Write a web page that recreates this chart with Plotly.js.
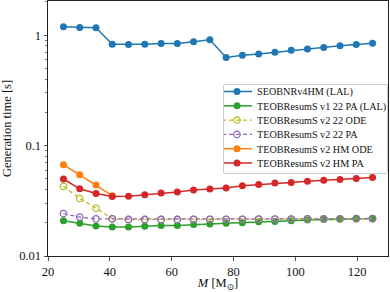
<!DOCTYPE html>
<html><head><meta charset="utf-8">
<script src="https://cdn.plot.ly/plotly-3.0.1.min.js"></script>
<style>body{margin:0;background:#fff}#plot{width:390px;height:292px}</style>
</head><body><div id="plot"></div>
<script>
const masses = [25, 30.26, 35.53, 40.79, 46.05, 51.32, 56.58, 61.84, 67.11, 72.37, 77.63, 82.89, 88.16, 93.42, 98.68, 103.95, 109.21, 114.47, 119.74, 125];
const seobnrv4hm = [1.19, 1.175, 1.165, 0.828, 0.823, 0.828, 0.84, 0.84, 0.87, 0.906, 0.627, 0.658, 0.676, 0.70, 0.73, 0.75, 0.773, 0.80, 0.823, 0.846];
const teobV1_22PA = [0.0209, 0.0198, 0.0187, 0.0183, 0.0183, 0.0186, 0.0189, 0.0189, 0.0193, 0.0195, 0.0198, 0.0200, 0.0204, 0.0205, 0.0208, 0.0212, 0.0214, 0.0216, 0.0217, 0.0218];
const teobV2_22ODE = [0.0427, 0.0332, 0.0271, 0.0217, 0.0214, 0.0214, 0.0214, 0.0214, 0.0215, 0.0215, 0.0215, 0.0215, 0.0216, 0.0216, 0.0216, 0.0217, 0.0217, 0.0217, 0.0218, 0.0218];
const teobV2_22PA = [0.0242, 0.0225, 0.0217, 0.0217, 0.0214, 0.0214, 0.0214, 0.0214, 0.0215, 0.0215, 0.0215, 0.0215, 0.0216, 0.0216, 0.0216, 0.0217, 0.0217, 0.0217, 0.0218, 0.0218];
const hmODEMasses = [25, 30.26, 35.53, 40.79];
const teobV2_HMODE = [0.0672, 0.0545, 0.044, 0.0352];
const teobV2_HMPA = [0.0498, 0.0406, 0.0368, 0.0346, 0.0348, 0.0358, 0.0371, 0.0379, 0.0396, 0.0404, 0.0413, 0.0433, 0.0444, 0.0459, 0.0464, 0.0474, 0.0484, 0.0494, 0.0502, 0.0515];
const names = ['SEOBNRv4HM (LAL)', 'TEOBResumS v1 22 PA (LAL)', 'TEOBResumS v2 22 ODE', 'TEOBResumS v2 22 PA', 'TEOBResumS v2 HM ODE', 'TEOBResumS v2 HM PA'];
const colors = ['#1f77b4', '#2ca02c', '#bcbd22', '#9467bd', '#ff7f0e', '#d62728'];
const xTicks = [20, 40, 60, 80, 100, 120];
const yTicks = [0.01, 0.1, 1];
const yTickText = ['0.01', '0.1', '1'];
const yMinor = [0.02,0.03,0.04,0.05,0.06,0.07,0.08,0.09,0.2,0.3,0.4,0.5,0.6,0.7,0.8,0.9,2];

function filled(x, y, i) {
  return {x: x, y: y, name: names[i], mode: 'lines+markers', type: 'scatter',
    line: {color: colors[i], width: 1.5}, marker: {color: colors[i], size: 7, symbol: 'circle'}};
}
function hollow(x, y, i) {
  return {x: x, y: y, name: names[i], mode: 'lines+markers', type: 'scatter',
    line: {color: colors[i], width: 1.3, dash: '4px,3px'},
    marker: {color: colors[i], size: 6.5, symbol: 'circle-open', line: {width: 1.3, color: colors[i]}}};
}
const data = [
  filled(masses, seobnrv4hm, 0),
  filled(masses, teobV1_22PA, 1),
  hollow(masses, teobV2_22ODE, 2),
  hollow(masses, teobV2_22PA, 3),
  filled(hmODEMasses, teobV2_HMODE, 4),
  filled(masses, teobV2_HMPA, 5)
];
const FAM = "'Liberation Serif', 'DejaVu Serif', serif";
const font = {family: FAM, size: 12.5, color: '#111'};
const layout = {
  width: 390, height: 292,
  margin: {l: 48, r: 2, t: 1, b: 36},
  paper_bgcolor: '#fff', plot_bgcolor: '#fff',
  font: font,
  showlegend: true,
  legend: {x: 0.995, y: 0.335, xanchor: 'right', yanchor: 'bottom',
    bgcolor: 'rgba(255,255,255,0.85)', bordercolor: '#ccc', borderwidth: 1,
    font: {family: FAM, size: 10.2, color: '#111'},
    tracegroupgap: 0, itemwidth: 30},
  xaxis: {range: [20, 130], tickvals: xTicks, ticks: 'outside', ticklen: 3.5, tickwidth: 0.8, tickcolor: '#222',
    showline: true, mirror: true, linecolor: '#222', linewidth: 1, showgrid: false, zeroline: false,
    title: {text: '<i>M</i> [M<sub>⊙</sub>]', font: font, standoff: 11}},
  yaxis: {type: 'log', range: [-2, 0.309], tickvals: yTicks, ticktext: yTickText, ticks: 'outside', ticklen: 3.5, tickwidth: 0.8, tickcolor: '#222',
    minor: {tickvals: yMinor, ticks: 'outside', ticklen: 2, tickwidth: 0.6, tickcolor: '#222', showgrid: false},
    showline: true, mirror: true, linecolor: '#222', linewidth: 1, showgrid: false, zeroline: false,
    title: {text: 'Generation time [s]', font: font, standoff: 4}}
};
function tr(el) {
  const m = /translate\(\s*([-\d.e]+)[ ,]+([-\d.e]+)\s*\)/.exec(el.getAttribute('transform') || '');
  return m ? {x: parseFloat(m[1]), y: parseFloat(m[2])} : {x: 0, y: 0};
}
Plotly.newPlot('plot', data, layout, {displayModeBar: false, staticPlot: true}).then(function (gd) {
  const items = gd.querySelectorAll('.legend .traces');
  if (items.length < 2) return;
  const row = 14.3, y0 = 7.5;
  items.forEach(function (it, i) {
    const p = tr(it);
    it.setAttribute('transform', 'translate(' + (p.x - 7) + ',' + (y0 + i * row) + ')');
  });
  const bg = gd.querySelector('.legend .bg');
  bg.setAttribute('width', 164);
  bg.setAttribute('height', 89);
  bg.setAttribute('rx', 2); bg.setAttribute('ry', 2);
  const lg = gd.querySelector('.legend');
  lg.setAttribute('transform', 'translate(223,84)');
});
</script></body></html>
